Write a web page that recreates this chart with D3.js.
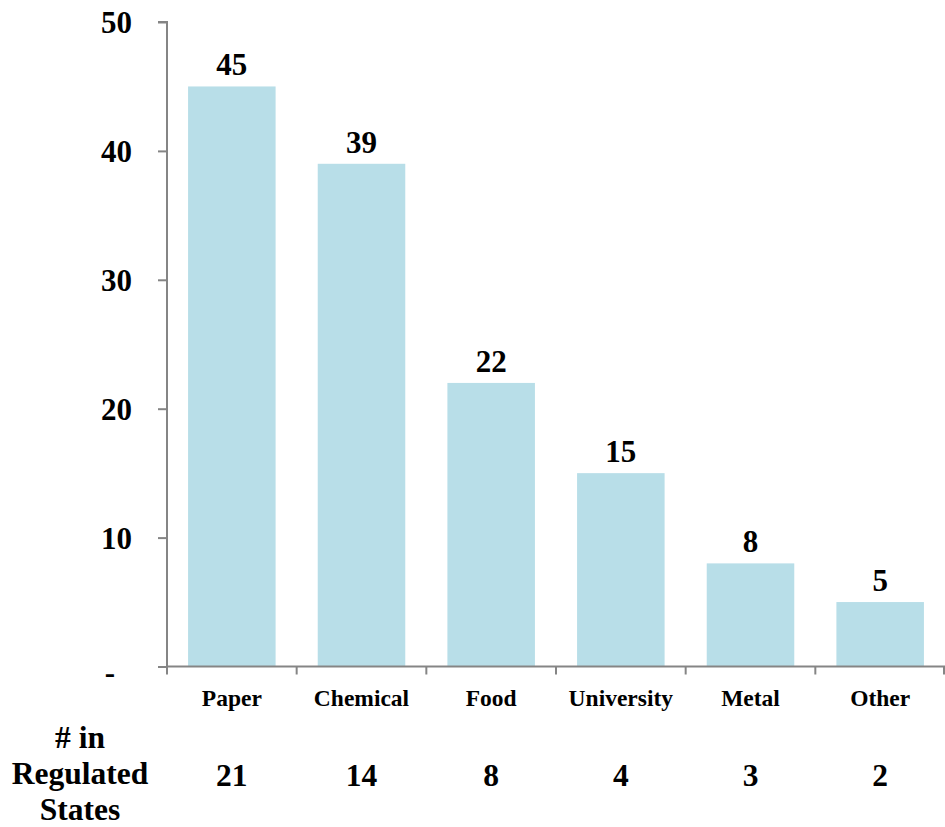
<!DOCTYPE html>
<html>
<head>
<meta charset="utf-8">
<script src="https://cdn.jsdelivr.net/npm/d3@7"></script>
<style>
  html, body { margin: 0; padding: 0; background: #fff; }
  svg { display: block; font-family: "Liberation Serif", "Times New Roman", serif; font-weight: bold; }
</style>
</head>
<body>
<svg id="chart" width="945" height="827"></svg>
<script>
// Facilities by sector, with counts located in regulated states
const categories = ["Paper", "Chemical", "Food", "University", "Metal", "Other"];
const facilities = [45, 39, 22, 15, 8, 5];
const regulatedStates = [21, 14, 8, 4, 3, 2];
const yTicks = [0, 10, 20, 30, 40, 50];

const svg = d3.select("#chart");
const x0 = 167, x1 = 945, yTop = 22, yBottom = 666.5;

const x = d3.scaleBand().domain(categories).range([x0, x1]).paddingInner(0.325).paddingOuter(0.1625);
const y = d3.scaleLinear().domain([0, 50]).range([yBottom, yTop]);

const axisColor = "#858585";

// Bars
svg.append("g").selectAll("rect")
  .data(categories)
  .join("rect")
  .attr("x", d => x(d))
  .attr("width", x.bandwidth())
  .attr("y", (d, i) => y(facilities[i]))
  .attr("height", (d, i) => y(0) - y(facilities[i]))
  .attr("fill", "#b8dee8");

// Y axis
const yAxis = svg.append("g")
  .attr("transform", `translate(${x0},0)`)
  .call(d3.axisLeft(y).tickValues(yTicks).tickSize(9).tickPadding(0).tickFormat(d => d === 0 ? "-" : d));
yAxis.select(".domain").attr("stroke", axisColor).attr("stroke-width", 2).attr("d", `M-9,${yTop}H0V${yBottom}`);
yAxis.selectAll(".tick line").attr("stroke", axisColor).attr("stroke-width", 2);
yAxis.selectAll(".tick text")
  .attr("x", d => d === 0 ? -52 : -35)
  .attr("dy", d => d === 0 ? "0.5em" : "0.35em")
  .attr("fill", "#000")
  .style("font-size", "31px")
  .style("font-family", "'Liberation Serif', serif")
  .style("font-weight", "bold");

// X axis with category boundary ticks
const xg = svg.append("g");
xg.append("line")
  .attr("x1", x0).attr("x2", x1)
  .attr("y1", yBottom).attr("y2", yBottom)
  .attr("stroke", axisColor).attr("stroke-width", 2);
const boundaries = d3.range(categories.length + 1).map(i => x0 + i * (x1 - x0) / categories.length);
xg.selectAll("line.b")
  .data(boundaries)
  .join("line")
  .attr("class", "b")
  .attr("x1", d => Math.min(d, x1 - 1)).attr("x2", d => Math.min(d, x1 - 1))
  .attr("y1", yBottom).attr("y2", yBottom + 8)
  .attr("stroke", axisColor).attr("stroke-width", 2);

// Category labels
svg.append("g").selectAll("text")
  .data(categories)
  .join("text")
  .attr("x", d => x(d) + x.bandwidth() / 2)
  .attr("y", 706)
  .attr("text-anchor", "middle")
  .style("font-size", "23.5px")
  .text(d => d);

// Value labels above bars
svg.append("g").selectAll("text")
  .data(categories)
  .join("text")
  .attr("x", d => x(d) + x.bandwidth() / 2)
  .attr("y", (d, i) => y(facilities[i]) - 11)
  .attr("text-anchor", "middle")
  .style("font-size", "31px")
  .text((d, i) => facilities[i]);

// Regulated-state counts row
svg.append("g").selectAll("text")
  .data(categories)
  .join("text")
  .attr("x", d => x(d) + x.bandwidth() / 2)
  .attr("y", 786)
  .attr("text-anchor", "middle")
  .style("font-size", "31.5px")
  .text((d, i) => regulatedStates[i]);

// Row heading
const head = svg.append("text")
  .attr("x", 80)
  .attr("text-anchor", "middle")
  .style("font-size", "31.5px");
["# in", "Regulated", "States"].forEach((t, i) => {
  head.append("tspan").attr("x", 80).attr("y", 748 + i * 36).text(t);
});
</script>
</body>
</html>
